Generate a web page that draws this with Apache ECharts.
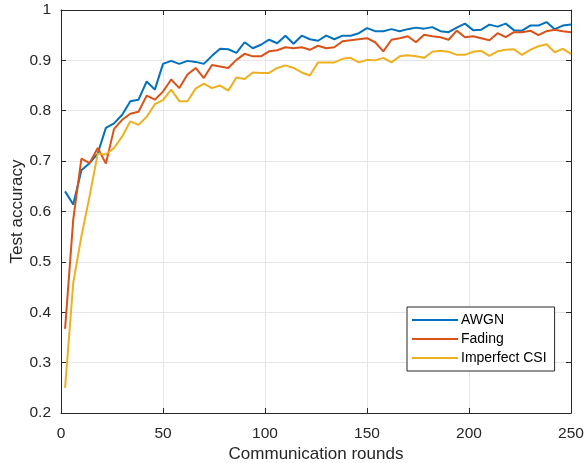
<!DOCTYPE html>
<html>
<head>
<meta charset="utf-8">
<script src="https://cdn.jsdelivr.net/npm/echarts@6/dist/echarts.min.js"></script>
<style>
html,body{margin:0;padding:0;background:#fff;}
#chart{width:586px;height:463px;}
</style>
</head>
<body>
<div id="chart"></div>
<script>
const rounds = [2,6,10,14,18,22,26,30,34,38,42,46,50,54,58,62,66,70,74,78,82,86,90,94,98,102,106,110,114,118,122,126,130,134,138,142,146,150,154,158,162,166,170,174,178,182,186,190,194,198,202,206,210,214,218,222,226,230,234,238,242,246,250];

const awgn = [0.640,0.614,0.682,0.696,0.715,0.766,0.775,0.792,0.819,0.822,0.858,0.842,0.893,0.899,0.893,0.899,0.897,0.893,0.909,0.923,0.922,0.915,0.936,0.924,0.931,0.941,0.934,0.949,0.933,0.949,0.942,0.939,0.949,0.942,0.949,0.949,0.954,0.964,0.958,0.958,0.962,0.958,0.962,0.965,0.963,0.966,0.958,0.956,0.965,0.973,0.960,0.961,0.971,0.967,0.973,0.960,0.959,0.969,0.969,0.976,0.962,0.969,0.971];

const fading = [0.367,0.584,0.705,0.696,0.726,0.695,0.764,0.782,0.794,0.798,0.830,0.822,0.838,0.862,0.845,0.872,0.885,0.865,0.891,0.888,0.885,0.901,0.913,0.908,0.908,0.918,0.920,0.926,0.924,0.926,0.921,0.929,0.924,0.926,0.938,0.940,0.942,0.944,0.936,0.918,0.941,0.944,0.948,0.936,0.951,0.948,0.946,0.941,0.959,0.946,0.948,0.944,0.940,0.954,0.946,0.956,0.956,0.959,0.950,0.958,0.961,0.958,0.956];

const imperfectCSI = [0.250,0.458,0.551,0.630,0.715,0.713,0.726,0.749,0.779,0.772,0.788,0.813,0.821,0.842,0.819,0.819,0.844,0.854,0.845,0.850,0.840,0.866,0.863,0.876,0.875,0.875,0.885,0.890,0.885,0.876,0.870,0.896,0.896,0.896,0.903,0.905,0.896,0.901,0.900,0.905,0.896,0.908,0.910,0.908,0.905,0.917,0.919,0.917,0.911,0.911,0.917,0.919,0.909,0.918,0.921,0.922,0.911,0.921,0.928,0.932,0.916,0.923,0.913];

const seriesNames = ['AWGN','Fading','Imperfect CSI'];
const seriesColors = ['#0072BD','#D95319','#EDB120'];
const xTicks = {min:0, max:250, interval:50};
const yTicks = {min:0.2, max:1, interval:0.1};

const pairs = vals => rounds.map((r,i)=>[r, vals[i]]);
const axisColor = '#262626';
const font = 'Liberation Sans, Arial, Helvetica, sans-serif';

const chart = echarts.init(document.getElementById('chart'), null, {renderer:'canvas'});
const lineIcon = 'path://M0,0 L46,0 L46,2.2 L0,2.2 Z';
chart.setOption({
  animation:false,
  backgroundColor:'#fff',
  grid:{left:61, right:15, top:10, bottom:50, containLabel:false, outerBoundsMode:'none'},
  legend:{
    orient:'vertical', left:407, top:307,
    data:seriesNames.map(n=>({name:n, icon:lineIcon})),
    itemWidth:46, itemHeight:3, itemGap:5,
    backgroundColor:'#fff', borderColor:axisColor, borderWidth:1,
    padding:[6,8,6,5],
    textStyle:{fontFamily:font, fontSize:14, color:'#000', padding:[0,0,0,-2]}
  },
  xAxis:[{
    type:'value', min:xTicks.min, max:xTicks.max, interval:xTicks.interval,
    name:'Communication rounds', nameLocation:'middle', nameGap:33, nameMoveOverlap:false,
    nameTextStyle:{fontFamily:font, fontSize:17, color:'#262626'},
    axisLine:{show:true, onZero:false, lineStyle:{color:axisColor, width:1}},
    axisTick:{show:true, inside:true, length:5, lineStyle:{color:axisColor}},
    axisLabel:{fontFamily:font, fontSize:15.5, color:axisColor, margin:13},
    splitLine:{show:true, lineStyle:{color:'#e6e6e6', width:1}}
  },{
    type:'value', position:'top', min:xTicks.min, max:xTicks.max, interval:xTicks.interval,
    axisLine:{show:true, onZero:false, lineStyle:{color:axisColor, width:1}},
    axisTick:{show:true, inside:true, length:5, lineStyle:{color:axisColor}},
    axisLabel:{show:false}, splitLine:{show:false}
  }],
  yAxis:[{
    type:'value', min:yTicks.min, max:yTicks.max, interval:yTicks.interval,
    name:'Test accuracy', nameLocation:'middle', nameGap:35, nameRotate:90, nameMoveOverlap:false,
    nameTextStyle:{fontFamily:font, fontSize:17, color:'#262626'},
    axisLine:{show:true, onZero:false, lineStyle:{color:axisColor, width:1}},
    axisTick:{show:true, inside:true, length:5, lineStyle:{color:axisColor}},
    axisLabel:{fontFamily:font, fontSize:15.5, color:axisColor, margin:10},
    splitLine:{show:true, lineStyle:{color:'#e6e6e6', width:1}}
  },{
    type:'value', position:'right', min:yTicks.min, max:yTicks.max, interval:yTicks.interval,
    axisLine:{show:true, onZero:false, lineStyle:{color:axisColor, width:1}},
    axisTick:{show:true, inside:true, length:5, lineStyle:{color:axisColor}},
    axisLabel:{show:false}, splitLine:{show:false}
  }],
  series:[awgn, fading, imperfectCSI].map((vals,i)=>({
    name:seriesNames[i], type:'line', data:pairs(vals),
    xAxisIndex:0, yAxisIndex:0,
    showSymbol:false, symbol:'none',
    lineStyle:{color:seriesColors[i], width:2},
    itemStyle:{color:seriesColors[i]}
  }))
});
</script>
</body>
</html>
